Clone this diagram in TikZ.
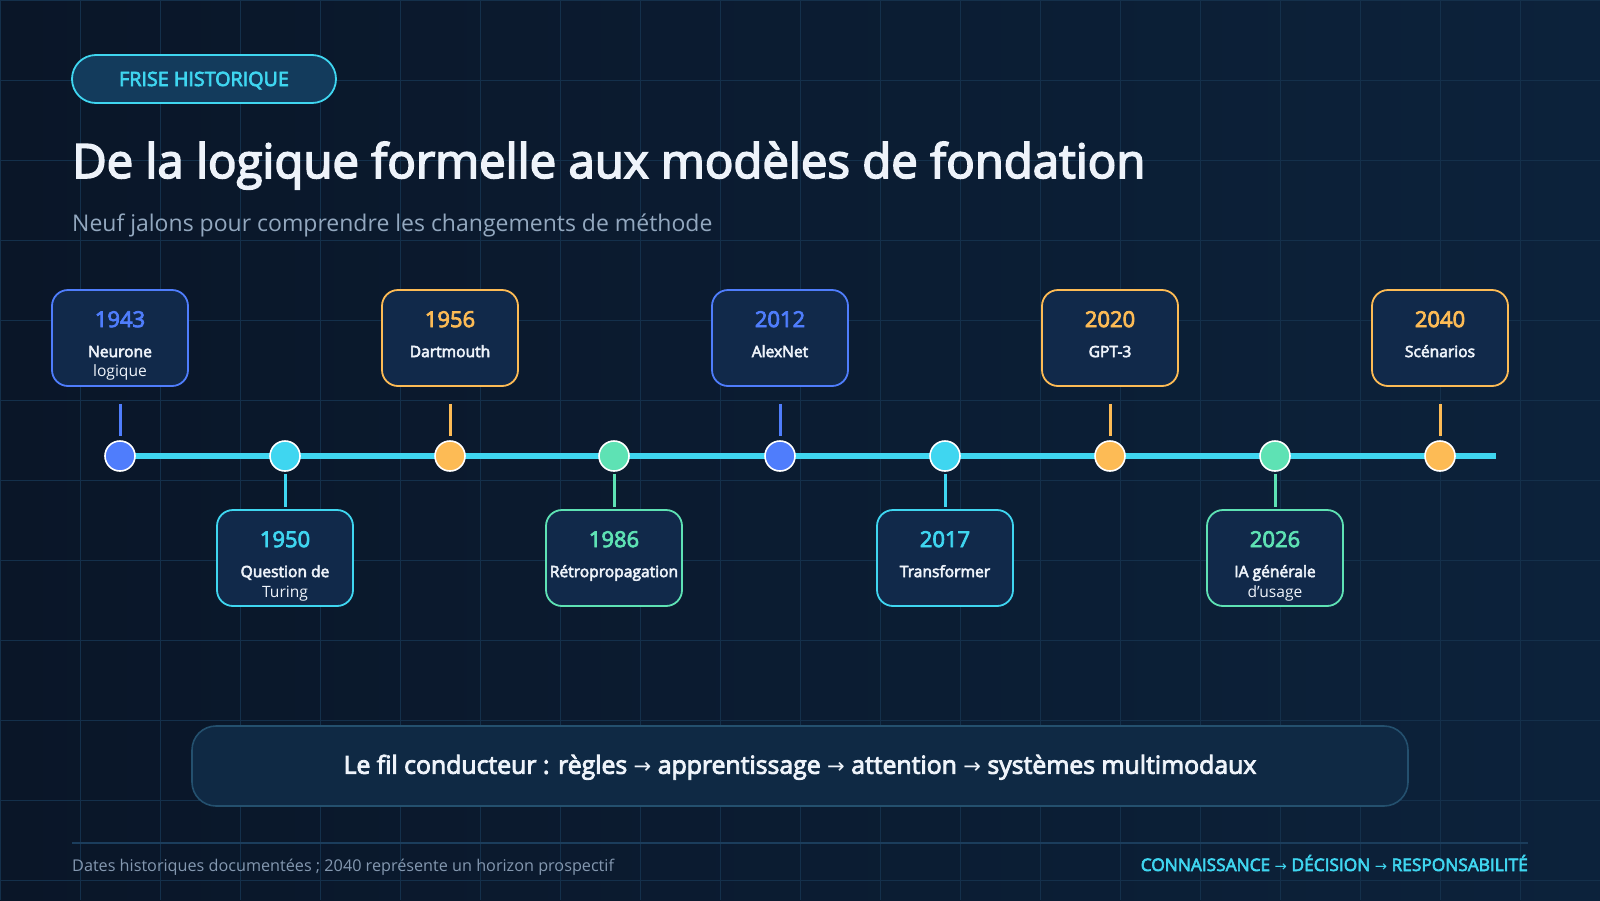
\documentclass[tikz,border=0pt]{standalone}
\usepackage{fontspec}
\setmainfont{Open Sans}
\newfontfamily\semiFont[FakeBold=3.5]{Open Sans}
\newfontfamily\arrowFont{DejaVu Sans}
\usetikzlibrary{calc,positioning}
\definecolor{bgDeep}{HTML}{0A1628}
\definecolor{bgLight}{HTML}{0C223B}
\definecolor{gridLine}{HTML}{14304B}
\definecolor{cardFill}{HTML}{11294A}
\definecolor{pillFill}{HTML}{133B5C}
\definecolor{bannerFill}{HTML}{0F2944}
\definecolor{bannerEdge}{HTML}{24506E}
\definecolor{ruleLine}{HTML}{1B3D5C}
\definecolor{jalonBlue}{HTML}{4F7DFC}
\definecolor{jalonCyan}{HTML}{3FD6F0}
\definecolor{jalonOrange}{HTML}{FDBB55}
\definecolor{jalonGreen}{HTML}{5EE2B4}
\definecolor{textWhite}{HTML}{EEF3FA}
\definecolor{textMuted}{HTML}{93A8BF}
\definecolor{textFoot}{HTML}{8498B0}
\newcommand{\Fleche}{{\arrowFont\scalebox{0.85}{→}}}
\newcommand{\JalonHaut}[6]{%
  \node[jalonDot,fill=#3] (#1dot) at (#2,456) {};
  \node[jalonCard,draw=#3] (#1card) at (#2,338) {};
  \node[yearText,text=#3] (#1year) at ($(#1card.north)+(0,38)$) {#4};
  \node[labelText] (#1lab) at ($(#1card.north)+(0,68)$) {\semiFont #5};
  \node[labelText] (#1sub) at ($(#1card.north)+(0,87)$) {#6};
  \draw[jalonStem,draw=#3,shorten <=17pt,shorten >=4pt] (#1card.south) -- (#1dot.north);
}
\newcommand{\JalonBas}[6]{%
  \node[jalonDot,fill=#3] (#1dot) at (#2,456) {};
  \node[jalonCard,draw=#3] (#1card) at (#2,558) {};
  \node[yearText,text=#3] (#1year) at ($(#1card.north)+(0,38)$) {#4};
  \node[labelText] (#1lab) at ($(#1card.north)+(0,68)$) {\semiFont #5};
  \node[labelText] (#1sub) at ($(#1card.north)+(0,88)$) {#6};
  \draw[jalonStem,draw=#3,shorten <=2pt,shorten >=2pt] (#1dot.south) -- (#1card.north);
}

\begin{document}
\begin{tikzpicture}[x=1pt,y=-1pt,
  jalonDot/.style={circle,minimum size=30pt,inner sep=0pt,draw=white,line width=1.6pt},
  jalonCard/.style={rounded corners=16pt,fill=cardFill,line width=1.8pt,minimum width=136pt,minimum height=96pt,inner sep=0pt},
  jalonStem/.style={line width=3pt},
  yearText/.style={anchor=base,inner sep=0pt,font=\fontsize{22}{26}\semiFont},
  labelText/.style={anchor=base,inner sep=0pt,text=textWhite,font=\fontsize{15.6}{18}\selectfont}]
\useasboundingbox (0,0) rectangle (1600,900);
\shade[left color=bgDeep,right color=bgLight] (0,0) rectangle (1600,900);
\foreach \gx in {0,80,...,1600} \draw[gridLine,line width=1pt] (\gx,0) -- (\gx,900);
\foreach \gy in {0,80,...,880} \draw[gridLine,line width=1pt] (0,\gy) -- (1600,\gy);

\node[rounded corners=24pt,fill=pillFill,draw=jalonCyan,line width=1.8pt,minimum width=264pt,minimum height=48pt,text height=14pt,text depth=0pt,text=jalonCyan,font=\fontsize{19.7}{22}\semiFont] (tag) at (204,79) {FRISE HISTORIQUE};
\node[anchor=base west,inner sep=0pt,text=textWhite,font=\fontsize{47.3}{54}\semiFont] (titre) at (72,178) {De la logique formelle aux modèles de fondation};
\node[anchor=base west,inner sep=0pt,text=textMuted,font=\fontsize{23}{27}\selectfont] (soustitre) at (72,231) {Neuf jalons pour comprendre les changements de méthode};

\coordinate (debut) at (120,456);
\coordinate (fin) at (1496,456);
\draw[jalonCyan,line width=6pt] (debut) -- (fin);

\JalonHaut{a}{120}{jalonBlue}{1943}{Neurone}{logique}
\JalonBas{b}{285}{jalonCyan}{1950}{Question de}{Turing}
\JalonHaut{c}{450}{jalonOrange}{1956}{Dartmouth}{}
\JalonBas{d}{614}{jalonGreen}{1986}{Rétropropagation}{}
\JalonHaut{e}{780}{jalonBlue}{2012}{AlexNet}{}
\JalonBas{f}{945}{jalonCyan}{2017}{Transformer}{}
\JalonHaut{g}{1110}{jalonOrange}{2020}{GPT-3}{}
\JalonBas{h}{1275}{jalonGreen}{2026}{IA générale}{d’usage}
\JalonHaut{k}{1440}{jalonOrange}{2040}{Scénarios}{}

\node[rounded corners=24pt,fill=bannerFill,draw=bannerEdge,line width=1.6pt,minimum width=1216pt,minimum height=80pt,text height=22pt,text depth=6.5pt,text=textWhite,font=\fontsize{24.8}{28}\semiFont] (fil) at (800,766) {Le fil conducteur : règles \Fleche{} apprentissage \Fleche{} attention \Fleche{} systèmes multimodaux};

\coordinate (piedG) at (72,843);
\coordinate (piedD) at (1528,843);
\draw[ruleLine,line width=2pt] (piedG) -- (piedD);
\node[anchor=base west,inner sep=0pt,text=textFoot,font=\fontsize{16.2}{19}\selectfont] (source) at (72,871) {Dates historiques documentées ; 2040 représente un horizon prospectif};
\node[anchor=base east,inner sep=0pt,text=jalonCyan,font=\fontsize{17.3}{20}\semiFont] (devise) at (1528,871) {CONNAISSANCE \Fleche{} DÉCISION \Fleche{} RESPONSABILITÉ};
\end{tikzpicture}
\end{document}
